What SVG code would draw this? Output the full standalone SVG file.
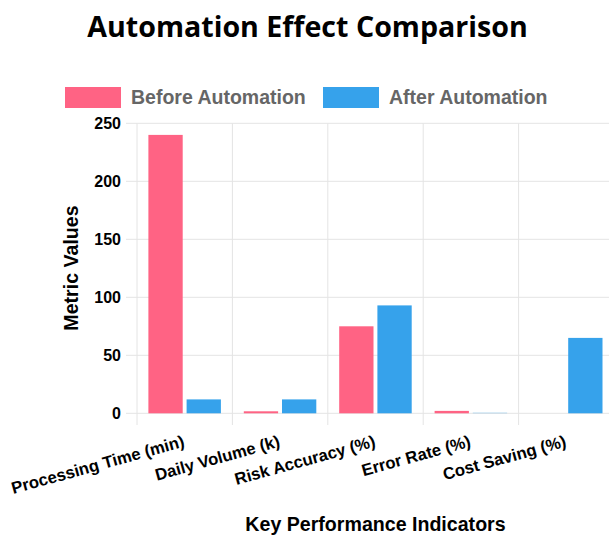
<svg xmlns="http://www.w3.org/2000/svg" width="609" height="536" viewBox="0 0 609 536">
<style>
.grid{stroke:#e4e4e4;stroke-width:1;fill:none}
.ytick{font-family:"Liberation Sans",Arial,sans-serif;font-weight:bold;font-size:16px;fill:#000;text-anchor:end}
.xtick{font-family:"Liberation Sans",Arial,sans-serif;font-weight:bold;font-size:16.7px;fill:#000;text-anchor:end;dominant-baseline:central}
.axt{font-family:"Liberation Sans",Arial,sans-serif;font-weight:bold;font-size:19.6px;fill:#000;text-anchor:middle}
.leg{font-family:"Liberation Sans",Arial,sans-serif;font-weight:bold;font-size:19.5px;fill:#666}
.pink{fill:#ff6384}
.blue{fill:#36a2eb}
</style>
<rect width="609" height="536" fill="#fff"/>
<g id="title"><text x="307.5" y="37" style="font-family:'Open Sans','Liberation Sans',sans-serif;font-weight:bold;font-size:28.6px;fill:#000;text-anchor:middle">Automation Effect Comparison</text></g>
<g id="legend">
<rect class="pink" x="65" y="87" width="56" height="21"/>
<text class="leg" x="131" y="104">Before Automation</text>
<rect class="blue" x="323" y="87" width="56" height="21"/>
<text class="leg" x="389" y="104">After Automation</text>
</g>
<g id="grid">
<path class="grid" d="M126 123.3H609M126 181.3H609M126 239.3H609M126 297.3H609M126 355.3H609M126 413.3H609"/>
<path class="grid" d="M137 123.3V425M232.4 123.3V425M327.8 123.3V425M423.2 123.3V425M518.6 123.3V425"/>
</g>
<g id="yaxis">
<text class="ytick" x="121" y="128.5">250</text>
<text class="ytick" x="121" y="186.5">200</text>
<text class="ytick" x="121" y="244.5">150</text>
<text class="ytick" x="121" y="302.5">100</text>
<text class="ytick" x="121" y="360.5">50</text>
<text class="ytick" x="121" y="418.5">0</text>
<text class="axt" transform="translate(77.5,268) rotate(-90)">Metric Values</text>
</g>
<g id="bars">
<rect class="pink" x="148.4" y="134.9" width="34.3" height="278.4"/>
<rect class="blue" x="186.6" y="399.4" width="34.3" height="13.9"/>
<rect class="pink" x="243.8" y="411.3" width="34.3" height="2"/>
<rect class="blue" x="282" y="399.4" width="34.3" height="13.9"/>
<rect class="pink" x="339.2" y="326.3" width="34.3" height="87"/>
<rect class="blue" x="377.4" y="305.4" width="34.3" height="107.9"/>
<rect class="pink" x="434.6" y="410.9" width="34.3" height="2.4"/>
<rect class="blue" x="472.8" y="412.6" width="34.3" height="0.7" opacity="0.4"/>
<rect class="blue" x="568.2" y="337.9" width="34.3" height="75.4"/>
</g>
<g id="xaxis">
<text class="xtick" transform="translate(184,441) rotate(-15.5)">Processing Time (min)</text>
<text class="xtick" transform="translate(279.4,441) rotate(-15.5)">Daily Volume (k)</text>
<text class="xtick" transform="translate(374.8,441) rotate(-15.5)">Risk Accuracy (%)</text>
<text class="xtick" transform="translate(470.2,441) rotate(-15.5)">Error Rate (%)</text>
<text class="xtick" transform="translate(565.6,441) rotate(-15.5)">Cost Saving (%)</text>
<text class="axt" x="375.5" y="531">Key Performance Indicators</text>
</g>
</svg>
